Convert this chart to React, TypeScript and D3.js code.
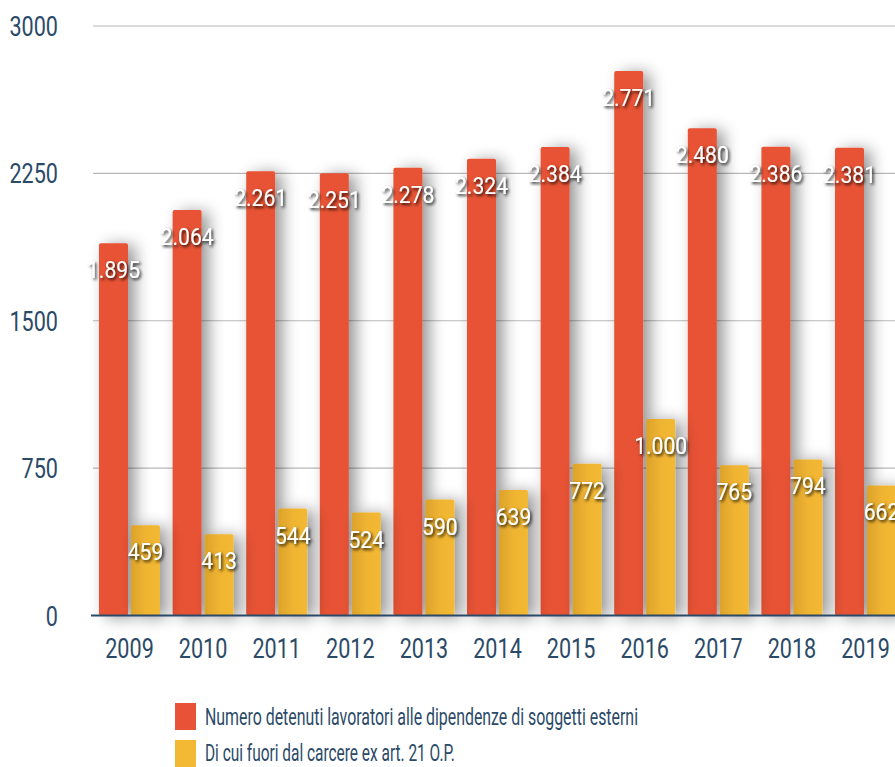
import React, { useLayoutEffect, useRef, useState } from "react";
import * as d3 from "d3";

const years = ["2009", "2010", "2011", "2012", "2013", "2014", "2015", "2016", "2017", "2018", "2019"];
const detenuti = [1895, 2064, 2261, 2251, 2278, 2324, 2384, 2771, 2480, 2386, 2381];
const fuori = [459, 413, 544, 524, 590, 639, 772, 1000, 765, 794, 662];
const yTicks = [0, 750, 1500, 2250, 3000];
const seriesNames = [
  "Numero detenuti lavoratori alle dipendenze di soggetti esterni",
  "Di cui fuori dal carcere ex art. 21 O.P.",
];
const legendWidths = [433, 250];

const W = 895;
const H = 767;
const RED = "#e85236";
const YEL = "#f3b934";
const AXIS = "#2b4a68";
const FONT = "Roboto, 'DejaVu Sans', sans-serif";

const itFmt = d3.formatLocale({ decimal: ",", thousands: ".", grouping: [3], currency: ["€", ""] }).format(",d");

function CText({ x, y, sx, size, fill, anchor, children }: any) {
  return (
    <text
      transform={`translate(${x},${y}) scale(${sx},1)`}
      textAnchor={anchor}
      fontFamily={FONT}
      fontSize={size}
      fill={fill}
    >
      {children}
    </text>
  );
}

export default function App() {
  const x0 = d3.scaleBand<string>().domain(years).range([92.7, 92.7 + 73.6 * 11]).padding(0);
  const inner = d3.scaleBand<string>().domain(["a", "b"]).range([6.3, 6.3 + 61]).paddingInner(3 / 32);
  const y = d3.scaleLinear().domain([0, 3000]).range([615.5, 26]);
  const bw = inner.bandwidth();

  const legRefs = [useRef<SVGTextElement>(null), useRef<SVGTextElement>(null)];
  const [legScale, setLegScale] = useState([0.8, 0.8]);
  useLayoutEffect(() => {
    const s = legRefs.map((r, i) => {
      const el = r.current;
      if (!el) return 0.8;
      const w = el.getComputedTextLength();
      return w > 0 ? legendWidths[i] / w : 0.8;
    });
    setLegScale(s);
  }, []);

  const series = [
    { key: "a", values: detenuti, color: RED },
    { key: "b", values: fuori, color: "url(#yg)" },
  ];

  return (
    <svg width={W} height={H} style={{ position: "absolute", left: 0, top: 0, background: "#fff" }}>
      <defs>
        <linearGradient id="yg" x1="0" x2="1" y1="0" y2="0">
          <stop offset="0" stopColor="#dca22b" />
          <stop offset="0.5" stopColor="#efb432" />
          <stop offset="1" stopColor={YEL} />
        </linearGradient>
        <filter id="bs" x="-80%" y="-20%" width="260%" height="140%">
          <feGaussianBlur in="SourceAlpha" stdDeviation="8" />
          <feOffset dx="7" dy="2" result="b" />
          <feComponentTransfer>
            <feFuncA type="linear" slope="0.42" />
          </feComponentTransfer>
          <feMerge>
            <feMergeNode />
            <feMergeNode in="SourceGraphic" />
          </feMerge>
        </filter>
        <filter id="ts" x="-20%" y="-30%" width="150%" height="170%">
          <feDropShadow dx="1.5" dy="1.8" stdDeviation="1.4" floodColor="#000" floodOpacity="0.9" />
        </filter>
      </defs>

      {yTicks.map((t) =>
        t > 0 ? <line key={"g" + t} x1={93} x2={W} y1={y(t)} y2={y(t)} stroke="#b8b8b8" strokeWidth={1.2} /> : null
      )}
      {yTicks.map((t) => (
        <CText key={t} x={58} y={y(t) + 10} sx={0.8} size={27} fill={AXIS} anchor="end">
          {t}
        </CText>
      ))}

      {series.map((s) => (
        <g key={s.key} filter="url(#bs)">
          {years.map((yr, i) => (
            <rect
              key={yr}
              x={(x0(yr) as number) + (inner(s.key) as number)}
              y={y(s.values[i])}
              width={bw}
              height={y(0) - y(s.values[i])}
              rx={2}
              fill={s.color}
            />
          ))}
        </g>
      ))}

      <line x1={91} x2={W} y1={y(0)} y2={y(0)} stroke={AXIS} strokeWidth={2.2} />

      {series.map((s) => (
        <g key={"l" + s.key} filter="url(#ts)">
          {years.map((yr, i) => (
            <CText
              key={yr}
              x={(x0(yr) as number) + (inner(s.key) as number) + bw / 2}
              y={y(s.values[i]) + 35}
              sx={0.88}
              size={24}
              fill="#fff"
              anchor="middle"
            >
              {itFmt(s.values[i])}
            </CText>
          ))}
        </g>
      ))}

      {years.map((yr) => (
        <CText key={yr} x={(x0(yr) as number) + 6.3 + 30.5} y={658} sx={0.8} size={27} fill={AXIS} anchor="middle">
          {yr}
        </CText>
      ))}

      <rect x={175} y={703} width={21} height={27} fill={RED} />
      <text
        ref={legRefs[0]}
        transform={`translate(205,725) scale(${legScale[0]},1)`}
        fontFamily={FONT}
        fontSize={24}
        fill={AXIS}
      >
        {seriesNames[0]}
      </text>
      <rect x={175} y={740} width={21} height={27} fill={YEL} />
      <text
        ref={legRefs[1]}
        transform={`translate(205,761) scale(${legScale[1]},1)`}
        fontFamily={FONT}
        fontSize={24}
        fill={AXIS}
      >
        {seriesNames[1]}
      </text>
    </svg>
  );
}
